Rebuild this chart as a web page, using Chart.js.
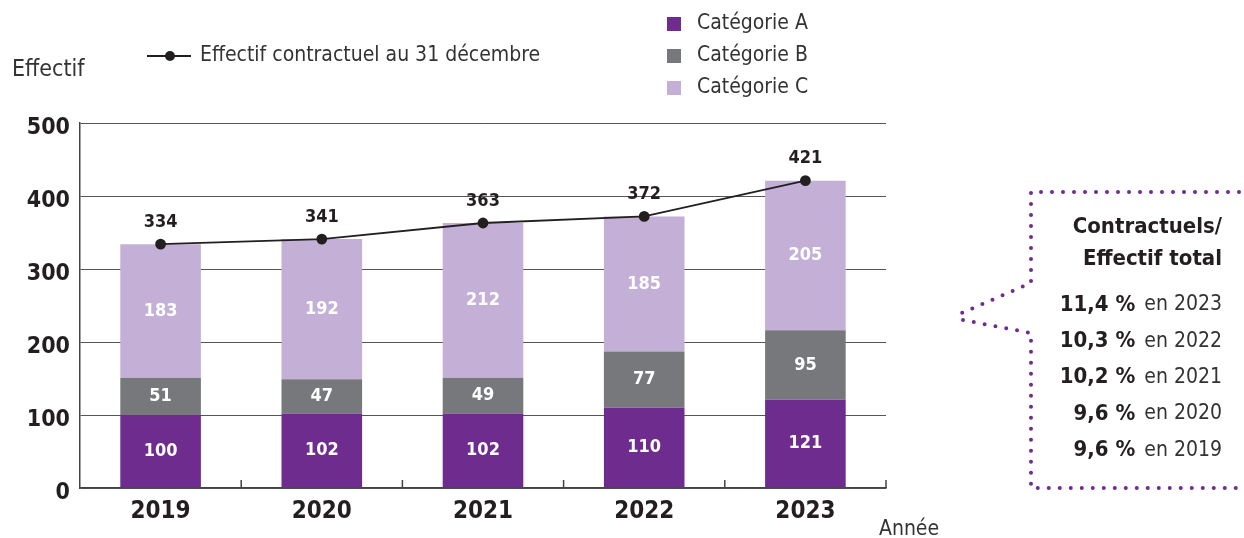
<!DOCTYPE html>
<html lang="fr">
<head>
<meta charset="utf-8">
<title>Effectif contractuel</title>
<script src="https://cdn.jsdelivr.net/npm/chart.js@4.4.1/dist/chart.umd.min.js"></script>
<style>
  body { margin: 0; background: #fff; }
  #wrap { position: relative; width: 1244px; height: 538px; }
</style>
</head>
<body>
<div id="wrap"><canvas id="myChart"></canvas></div>
<script>
// Données
const annees = ["2019", "2020", "2021", "2022", "2023"];
const catA = [100, 102, 102, 110, 121];
const catB = [51, 47, 49, 77, 95];
const catC = [183, 192, 212, 185, 205];
const effectifTotal = [334, 341, 363, 372, 421];
const ratioLignes = ["11,4 %", "10,3 %", "10,2 %", "9,6 %", "9,6 %"];
const ratioAnnees = ["2023", "2022", "2021", "2020", "2019"];
const yTicks = [0, 100, 200, 300, 400, 500];

const FONT = "'DejaVu Sans Condensed', 'Liberation Sans Narrow', 'Roboto', sans-serif";
const NOIR = "#231f20";
const VIOLET = "#6f2c8f";
const GRIS = "#77787b";
const LAVANDE = "#c4b0d6";

// Etiquettes des valeurs, petits repères de l'axe X
const etiquettes = {
  id: "etiquettes",
  afterDatasetsDraw(chart) {
    const ctx = chart.ctx;
    ctx.save();
    ctx.textAlign = "center";
    ctx.textBaseline = "middle";
    chart.data.datasets.forEach((ds, i) => {
      const meta = chart.getDatasetMeta(i);
      meta.data.forEach((el, j) => {
        if (ds.type === "line") {
          ctx.fillStyle = NOIR;
          ctx.font = "bold 18px " + FONT;
          ctx.fillText(ds.data[j], el.x, el.y - 22);
        } else {
          ctx.fillStyle = "#fff";
          ctx.font = "bold 18px " + FONT;
          ctx.fillText(ds.data[j], el.x, (el.y + el.base) / 2);
        }
      });
    });
    // repères entre catégories
    const x = chart.scales.x;
    const bas = chart.chartArea.bottom;
    ctx.strokeStyle = "#444";
    ctx.lineWidth = 1.5;
    ctx.beginPath();
    for (let i = 0; i < annees.length; i++) {
      const px = i < annees.length - 1
        ? (x.getPixelForTick(i) + x.getPixelForTick(i + 1)) / 2
        : x.right;
      ctx.moveTo(px, bas);
      ctx.lineTo(px, bas - 8);
    }
    ctx.stroke();
    ctx.restore();
  },
  afterDraw(chart) {
    const ctx = chart.ctx;
    ctx.save();
    ctx.textBaseline = "middle";
    ctx.fillStyle = "#333";

    // Titre axe Y et axe X
    ctx.font = "23px " + FONT;
    ctx.textAlign = "left";
    ctx.fillText("Effectif", 12, 70);
    ctx.font = "21px " + FONT;
    ctx.fillText("Année", 879, 530);

    // Légende ligne
    ctx.strokeStyle = NOIR;
    ctx.lineWidth = 2;
    ctx.beginPath();
    ctx.moveTo(147, 56);
    ctx.lineTo(191, 56);
    ctx.stroke();
    ctx.fillStyle = NOIR;
    ctx.beginPath();
    ctx.arc(170, 56, 5, 0, Math.PI * 2);
    ctx.fill();
    ctx.fillStyle = "#333";
    ctx.font = "21px " + FONT;
    ctx.fillText("Effectif contractuel au 31 décembre", 200, 56);

    // Légende catégories
    const cats = [["Catégorie A", VIOLET], ["Catégorie B", GRIS], ["Catégorie C", LAVANDE]];
    cats.forEach((c, i) => {
      const y = 24 + i * 32;
      ctx.fillStyle = c[1];
      ctx.fillRect(667, y - 7, 14, 14);
      ctx.fillStyle = "#333";
      ctx.fillText(c[0], 697, y);
    });

    // Encadré pointillé
    ctx.strokeStyle = VIOLET;
    ctx.lineWidth = 4;
    ctx.lineCap = "round";
    ctx.setLineDash([0, 11]);
    ctx.beginPath();
    ctx.moveTo(1250, 192);
    ctx.lineTo(1031, 192);
    ctx.lineTo(1031, 283);
    ctx.lineTo(955, 316);
    ctx.stroke();
    ctx.beginPath();
    ctx.moveTo(963, 320);
    ctx.lineTo(1031, 333);
    ctx.lineTo(1031, 488);
    ctx.lineTo(1250, 488);
    ctx.stroke();
    ctx.setLineDash([]);

    ctx.textAlign = "right";
    ctx.fillStyle = NOIR;
    ctx.font = "bold 22px " + FONT;
    ctx.fillText("Contractuels/", 1222, 227);
    ctx.fillText("Effectif total", 1222, 259);
    ratioLignes.forEach((r, i) => {
      const y = 305 + i * 36.3;
      ctx.font = "21px " + FONT;
      ctx.fillStyle = "#333";
      const txt = "en " + ratioAnnees[i];
      ctx.fillText(txt, 1222, y);
      const w = ctx.measureText(txt).width;
      ctx.font = "bold 22px " + FONT;
      ctx.fillStyle = NOIR;
      ctx.fillText(r, 1222 - w - 9, y);
    });
    ctx.restore();
  },
};

const ctx = document.getElementById("myChart");
window.myChart = new Chart(ctx, {
  type: "bar",
  data: {
    labels: annees,
    datasets: [
      {
        type: "line",
        label: "Effectif contractuel au 31 décembre",
        data: effectifTotal,
        stack: "total",
        borderColor: NOIR,
        borderWidth: 1.8,
        pointRadius: 4.5,
        pointBackgroundColor: NOIR,
        pointBorderColor: NOIR,
        order: 0,
      },
      { label: "Catégorie A", data: catA, backgroundColor: VIOLET, stack: "cat", order: 1 },
      { label: "Catégorie B", data: catB, backgroundColor: GRIS, stack: "cat", order: 1 },
      { label: "Catégorie C", data: catC, backgroundColor: LAVANDE, stack: "cat", order: 1 },
    ],
  },
  options: {
    responsive: true,
    maintainAspectRatio: false,
    animation: false,
    layout: { padding: { top: 123, right: 358, left: 0, bottom: 0 } },
    datasets: { bar: { categoryPercentage: 1, barPercentage: 0.5 } },
    plugins: { legend: { display: false }, tooltip: { enabled: false } },
    scales: {
      x: {
        stacked: true,
        grid: { display: false },
        border: { display: true, color: "#444", width: 1.5 },
        ticks: { color: NOIR, font: { family: FONT, size: 24, weight: "bold" }, padding: 1 },
        afterFit: (s) => { s.height = 50; },
      },
      y: {
        stacked: true,
        min: 0,
        max: 500,
        afterBuildTicks: (s) => { s.ticks = yTicks.map((v) => ({ value: v })); },
        grid: { color: "#555", lineWidth: 1, drawTicks: false },
        border: { display: true, color: "#444", width: 1.5 },
        ticks: { color: NOIR, font: { family: FONT, size: 23, weight: "bold" }, padding: 10, labelOffset: 5 },
        afterFit: (s) => { s.width = 80; },
      },
    },
  },
  plugins: [etiquettes],
});
</script>
</body>
</html>
